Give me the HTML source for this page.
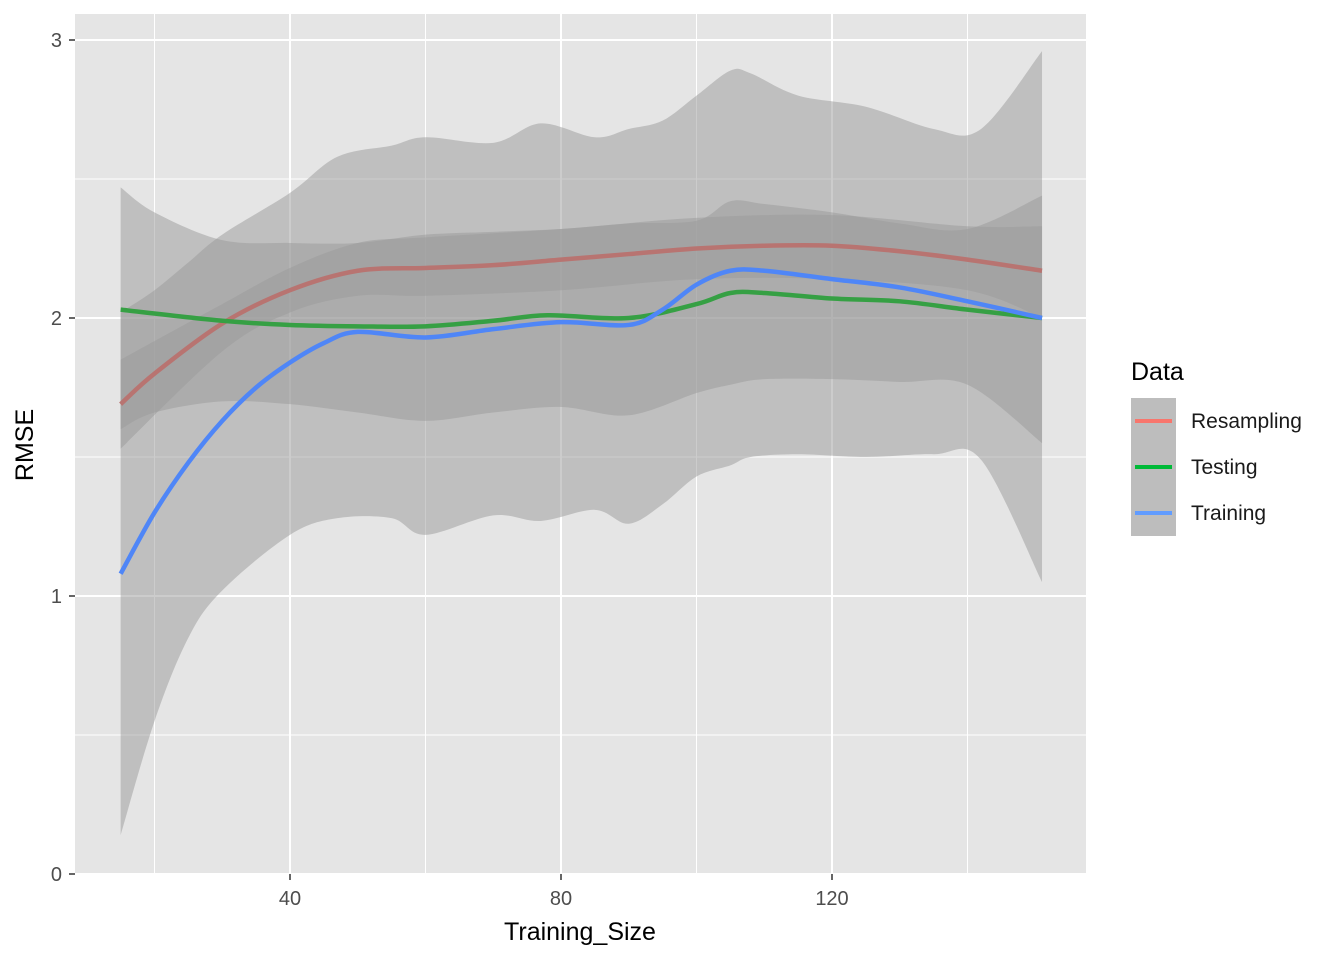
<!DOCTYPE html>
<html><head><meta charset="utf-8"><style>
body{margin:0;background:#fff;font-family:"Liberation Sans",Arial,sans-serif}
</style></head><body>
<svg width="1344" height="960" xmlns="http://www.w3.org/2000/svg">
<rect x="75" y="14" width="1011" height="860" fill="#E5E5E5"/>
<g id="grid"></g><g id="bands"></g><g id="lines"></g><g id="axes"></g>
<text x="33" y="445" transform="rotate(-90 33 445)" font-size="25" text-anchor="middle" fill="#000">RMSE</text>
<text x="580" y="940" font-size="25" text-anchor="middle" fill="#000">Training_Size</text>
<g>
<text x="1131" y="380" font-size="25" fill="#000">Data</text>
<g><rect x="1131" y="398" width="45" height="46" fill="#BDBDBD"/><line x1="1135" x2="1172" y1="421" y2="421" stroke="#F8766D" stroke-width="4"/><text x="1191" y="428" font-size="21" fill="#1a1a1a">Resampling</text></g>
<g><rect x="1131" y="444" width="45" height="46" fill="#BDBDBD"/><line x1="1135" x2="1172" y1="467" y2="467" stroke="#00BA38" stroke-width="4"/><text x="1191" y="474" font-size="21" fill="#1a1a1a">Testing</text></g>
<g><rect x="1131" y="490" width="45" height="46" fill="#BDBDBD"/><line x1="1135" x2="1172" y1="513" y2="513" stroke="#619CFF" stroke-width="4"/><text x="1191" y="520" font-size="21" fill="#1a1a1a">Training</text></g>
</g>
</svg>
<script>
const xTicks=[40,80,120];
const xMinor=[20,60,100,140];
const yTicks=[0,1,2,3];
const yMinor=[0.5,1.5,2.5];
const resX=[15,20,30,40,50,60,70,80,90,100,110,120,130,140,151];
const resY=[1.69,1.80,1.98,2.10,2.17,2.18,2.19,2.21,2.23,2.25,2.26,2.26,2.24,2.21,2.17];
const resBX=[15,30,40,50,60,80,100,120,140,151];
const resUp=[1.85,2.05,2.18,2.27,2.29,2.32,2.36,2.37,2.33,2.33];
const resLo=[1.53,1.88,2.02,2.08,2.08,2.10,2.14,2.14,2.10,2.00];
const tesX=[15,30,40,50,60,70,78,90,100,105,110,120,130,140,151];
const tesY=[2.03,1.99,1.975,1.97,1.97,1.99,2.01,2.0,2.05,2.09,2.09,2.07,2.06,2.03,2.0];
const tesBX=[15,20,30,40,50,60,70,80,90,100,105,110,120,130,140,151];
const tesUp=[2.47,2.38,2.28,2.27,2.27,2.30,2.31,2.32,2.34,2.35,2.42,2.41,2.38,2.34,2.32,2.44];
const tesLo=[1.60,1.66,1.70,1.69,1.66,1.63,1.66,1.68,1.65,1.73,1.76,1.78,1.78,1.77,1.76,1.55];
const traX=[15,20,25,30,35,40,45,50,60,70,80,90,95,100,105,110,120,130,140,151];
const traY=[1.08,1.3,1.48,1.63,1.75,1.84,1.91,1.95,1.93,1.96,1.985,1.975,2.03,2.12,2.17,2.17,2.14,2.11,2.06,2.0];
const traBX=[15,20,25,30,40,47,55,60,70,77,85,90,95,100,105,108,115,125,135,142,151];
const traUp=[2.02,2.1,2.2,2.3,2.45,2.58,2.62,2.65,2.63,2.70,2.65,2.68,2.71,2.80,2.89,2.88,2.80,2.76,2.68,2.68,2.96];
const traLo=[0.14,0.55,0.85,1.02,1.22,1.28,1.28,1.22,1.29,1.27,1.31,1.26,1.33,1.43,1.47,1.50,1.51,1.50,1.51,1.49,1.05];

const X=v=>290+(v-40)*6.775;
const Y=v=>874-v*278;
const NS='http://www.w3.org/2000/svg';
function mk(t,a,p){const e=document.createElementNS(NS,t);for(const k in a)e.setAttribute(k,a[k]);p.appendChild(e);return e;}
function smooth(pts){let d='';for(let i=0;i<pts.length;i++){const p=pts[i];if(i==0){d+='M'+p[0]+','+p[1];continue;}
const p0=pts[i-2]||pts[i-1],p1=pts[i-1],p3=pts[i+1]||p;
const c1=[p1[0]+(p[0]-p0[0])/6,p1[1]+(p[1]-p0[1])/6],c2=[p[0]-(p3[0]-p1[0])/6,p[1]-(p3[1]-p1[1])/6];
d+='C'+c1+' '+c2+' '+p;}return d;}
const grid=document.getElementById('grid');
xMinor.forEach(v=>{const l=mk('line',{x1:X(v),x2:X(v),y1:14,y2:874,stroke:'#fff','stroke-width':1},grid);
});
yMinor.forEach(v=>{const l=mk('line',{x1:75,x2:1086,y1:Y(v),y2:Y(v),stroke:'#fff','stroke-width':1},grid);
});
xTicks.forEach(v=>{const l=mk('line',{x1:X(v),x2:X(v),y1:14,y2:874,stroke:'#fff','stroke-width':2},grid);
});
yTicks.forEach(v=>{const l=mk('line',{x1:75,x2:1086,y1:Y(v),y2:Y(v),stroke:'#fff','stroke-width':2},grid);
});
const axes=document.getElementById('axes');
xTicks.forEach(v=>{mk('line',{x1:X(v),x2:X(v),y1:874,y2:880,stroke:'#333','stroke-width':1.5},axes);
const t=mk('text',{x:X(v),y:905,'font-size':20,'text-anchor':'middle',fill:'#4D4D4D'},axes);t.textContent=v;
});
yTicks.forEach(v=>{mk('line',{x1:69,x2:75,y1:Y(v),y2:Y(v),stroke:'#333','stroke-width':1.5},axes);
const t=mk('text',{x:62,y:Y(v)+7,'font-size':20,'text-anchor':'end',fill:'#4D4D4D'},axes);t.textContent=v;
});
const bands=document.getElementById('bands');
function band(bx,up,lo,name){const u=bx.map((x,i)=>[X(x),Y(up[i])]);const l=bx.map((x,i)=>[X(x),Y(lo[i])]).reverse();
const d=smooth(u)+'L'+l[0]+smooth(l).slice(1).replace(/^[^C]*/,'')+'Z';
const p=mk('path',{d:d,fill:'#999999','fill-opacity':0.5},bands);
}
band(traBX,traUp,traLo,'training-confidence-band');
band(tesBX,tesUp,tesLo,'testing-confidence-band');
band(resBX,resUp,resLo,'resampling-confidence-band');
const lines=document.getElementById('lines');
function line(xs,ys,c,name){const p=mk('path',{d:smooth(xs.map((x,i)=>[X(x),Y(ys[i])])),fill:'none',stroke:c,'stroke-width':4.5},lines);
}
line(resX,resY,'#B87471','resampling-line');
line(tesX,tesY,'#36A044','testing-line');
line(traX,traY,'#4F86F7','training-line');
</script>
</body></html>
